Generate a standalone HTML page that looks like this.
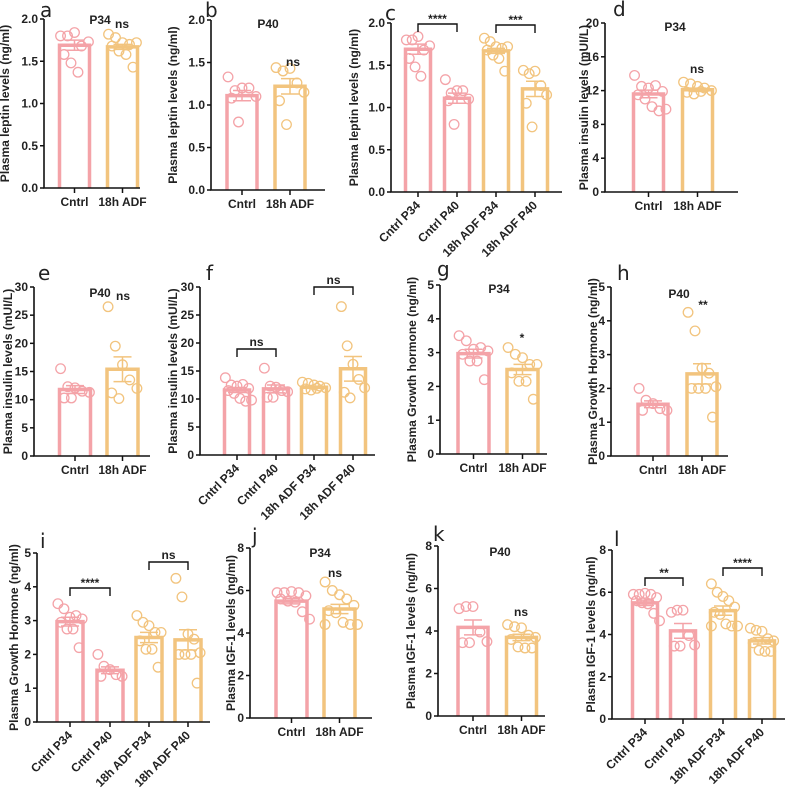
<!DOCTYPE html>
<html><head><meta charset="utf-8">
<style>
html,body{margin:0;padding:0;background:#fff;}
svg{display:block;font-family:"Liberation Sans",Arial,sans-serif;}
.tk{font-size:12px;font-weight:bold;fill:#222;}
.yl{font-size:12px;font-weight:bold;fill:#222;}
.tt{font-size:12px;font-weight:bold;fill:#222;}
.lt{font-size:20px;fill:#222;font-family:"DejaVu Sans",sans-serif;}
</style></head>
<body>
<svg id="fig" width="790" height="790" viewBox="0 0 790 790"></svg>
<script>
// ---- data ----
const catsTwo = ["Cntrl","18h ADF"];
const catsFour = ["Cntrl P34","Cntrl P40","18h ADF P34","18h ADF P40"];
const leptinCntrlP34 = [1.80,1.80,1.84,1.68,1.73,1.58,1.48,1.37];
const leptinAdfP34 = [1.82,1.78,1.72,1.70,1.72,1.68,1.62,1.58,1.43];
const leptinCntrlP40 = [1.33,1.17,1.20,1.20,1.10,1.08,0.80];
const leptinAdfP40 = [1.44,1.40,1.43,1.26,1.15,1.05,0.77];
const leptinMeans = [1.69,1.11,1.67,1.22];
const leptinSems = [0.06,0.06,0.03,0.09];
const insCntrlP34 = [13.8,12.5,12.3,12.6,11.9,11.5,11.0,10.1,9.6,9.8];
const insAdfP34 = [13.0,12.8,12.5,12.3,12.0,11.8,11.6,11.9];
const insCntrlP40 = [15.5,12.3,12.1,11.5,11.3,10.3,10.3];
const insAdfP40 = [26.5,19.5,16.2,13.5,12.0,11.2,10.2];
const insMeans = [11.6,11.8,12.1,15.4];
const insSems = [0.45,0.7,0.2,2.2];
const ghCntrlP34 = [3.5,3.35,3.1,3.15,3.05,2.95,2.75,2.75,2.2];
const ghAdfP34 = [3.15,2.95,2.85,2.65,2.65,2.4,2.15,2.15,1.62];
const ghCntrlP40 = [2.0,1.65,1.55,1.4,1.35,1.35];
const ghAdfP40 = [4.25,3.7,2.6,2.45,2.05,2.0,2.0,2.0,1.15];
const ghMeans = [2.97,1.53,2.50,2.43];
const ghSems = [0.13,0.1,0.15,0.3];
const igfCntrlP34 = [5.9,5.9,5.95,5.9,5.75,5.6,5.5,5.45,5.0,4.65];
const igfAdfP34 = [6.4,6.0,5.8,5.6,5.3,5.05,4.95,4.5,4.4,4.4,4.4];
const igfCntrlP40 = [5.05,5.15,5.15,3.95,3.5,3.45,3.45];
const igfAdfP40 = [4.3,4.2,4.15,3.8,3.7,3.6,3.25,3.2,3.2];
const igfMeans = [5.5,4.17,5.13,3.7];
const igfSems = [0.13,0.35,0.22,0.15];
const ticksLeptin = ["0.0","0.5","1.0","1.5","2.0"];
const ticksInsD = ["0","4","8","12","16","20"];
const ticksIns = ["0","5","10","15","20","25","30"];
const ticksGh = ["0","1","2","3","4","5"];
const ticksIgf = ["0","2","4","6","8"];

const PINK="#f4a3a8", ORANGE="#f2c47e";
const svg=document.getElementById('fig');
const NS="http://www.w3.org/2000/svg";
function mk(tag,attrs,parent){const e=document.createElementNS(NS,tag);for(const k in attrs)e.setAttribute(k,attrs[k]);(parent||svg).appendChild(e);return e;}

function panel(p){
  const g=mk('g',{});
  
  
  const vmax=parseFloat(p.ticks[p.ticks.length-1]);
  const y=v=>p.bot-(v/vmax)*(p.bot-p.top);
  const lt=mk('text',{x:p.lx,y:p.ly,class:'lt'},g);lt.textContent=p.letter;
  
  
  p.means.forEach((m,i)=>{
    const cx=p.cx[i],col=p.colors[i],hw=p.bw/2;
    const bar=mk('path',{d:`M${cx-hw},${p.bot} V${y(m)} H${cx+hw} V${p.bot}`,fill:'none',stroke:col,'stroke-width':3.5},g);
    
    
    const pts=p.pts[i];
    pts.forEach((v,j)=>{
      const off=((j%5)-2)*(p.bw/4.3)+((j%10)>=5?p.bw/8.6:0);
      const c=mk('circle',{cx:cx+off,cy:y(v),r:4.8,fill:'none',stroke:col,'stroke-width':1.3},g);
      
      
    });
    const s=p.sems[i];
    const eb=mk('path',{d:`M${cx},${y(m-s)} V${y(m+s)} M${cx-9},${y(m+s)} H${cx+9} M${cx-9},${y(m-s)} H${cx+9}`,stroke:col,'stroke-width':1.5,fill:'none'},g);
    
    
  });
  mk('path',{d:`M${p.ax},${p.top} V${p.bot} H${p.aend}`,stroke:'#111','stroke-width':1.6,fill:'none'},g);
  p.ticks.forEach(t=>{
    const yy=y(parseFloat(t));
    mk('line',{x1:p.ax-4,x2:p.ax,y1:yy,y2:yy,stroke:'#111','stroke-width':1.5},g);
    const tx=mk('text',{x:p.ax-6,y:yy+4,class:'tk','text-anchor':'end'},g);tx.textContent=t;
  });
  p.cats.forEach((c,i)=>{
    mk('line',{x1:p.cx[i],x2:p.cx[i],y1:p.bot,y2:p.bot+5,stroke:'#111','stroke-width':1.5},g);
    let tx;
    if(p.cats.length===2){tx=mk('text',{x:p.cx[i],y:p.bot+18,class:'tk','text-anchor':'middle'},g);}
    else{tx=mk('text',{x:p.cx[i]+3,y:p.bot+14,class:'tk','text-anchor':'end',transform:`rotate(-45 ${p.cx[i]+3} ${p.bot+14})`},g);}
    tx.textContent=c;
    
    
  });
  const ymid=(p.top+p.bot)/2;
  const yl=mk('text',{x:p.ylx,y:ymid,class:'yl','text-anchor':'middle',transform:`rotate(-90 ${p.ylx} ${ymid})`},g);
  yl.textContent=p.ylabel;
  
  
  if(p.title){const t=mk('text',{x:p.title[1],y:p.title[2],class:'tt','text-anchor':'middle'},g);t.textContent=p.title[0];
    
    }
  (p.sig||[]).forEach(s=>{
    const t=mk('text',{x:s[1],y:s[2],class:'tt','text-anchor':'middle','font-size':s[0]==='ns'?'12px':'9px'},g);t.textContent=s[0];
    
    
  });
  (p.br||[]).forEach(b=>{
    const x1=p.cx[b[0]],x2=p.cx[b[1]],yy=b[2];
    mk('path',{d:`M${x1},${yy+8} V${yy} H${x2} V${yy+8}`,stroke:'#111','stroke-width':1.4,fill:'none'},g);
    const t=mk('text',{x:(x1+x2)/2,y:b[3]==='ns'?yy-3:yy-1,class:'tt','text-anchor':'middle','font-size':b[3]==='ns'?'12px':'9px'},g);t.textContent=b[3];
    
    
  });
}
const two=[PINK,ORANGE], four=[PINK,PINK,ORANGE,ORANGE];
const LEP="Plasma leptin levels (ng/ml)", INS="Plasma insulin  levels (mUI/L)", IGF="Plasma IGF-1 levels (ng/ml)";
panel({letter:'a',lx:40,ly:17,ax:44,top:19,bot:188,aend:140,cx:[74.5,122.5],bw:30,cats:catsTwo,colors:two,
  means:[leptinMeans[0],leptinMeans[2]],sems:[leptinSems[0],leptinSems[2]],pts:[leptinCntrlP34,leptinAdfP34],
  ticks:ticksLeptin,ylabel:LEP,ylx:9,title:['P34',100,24],sig:[['ns',122,28]]});
panel({letter:'b',lx:205,ly:17,ax:211,top:20,bot:190,aend:325,cx:[242,290],bw:30,cats:catsTwo,colors:two,
  means:[leptinMeans[1],leptinMeans[3]],sems:[leptinSems[1],leptinSems[3]],pts:[leptinCntrlP40,leptinAdfP40],
  ticks:ticksLeptin,ylabel:LEP,ylx:177,title:['P40',268,28],sig:[['ns',293,66]]});
panel({letter:'c',lx:385,ly:20,ax:391,top:23,bot:192,aend:562,cx:[418,457,496,535],bw:25,cats:catsFour,colors:four,
  means:leptinMeans,sems:leptinSems,pts:[leptinCntrlP34,leptinCntrlP40,leptinAdfP34,leptinAdfP40],
  ticks:ticksLeptin,ylabel:LEP,ylx:358,br:[[0,1,24,'****'],[2,3,25,'***']]});
panel({letter:'d',lx:613,ly:16,ax:605,top:23,bot:192,aend:738,cx:[648.5,697.5],bw:30,cats:catsTwo,colors:two,
  means:[insMeans[0],insMeans[2]],sems:[insSems[0],insSems[2]],pts:[insCntrlP34,insAdfP34],
  ticks:ticksInsD,ylabel:INS,ylx:588,title:['P34',675,31],sig:[['ns',697,73]]});
panel({letter:'e',lx:38,ly:280,ax:34,top:287,bot:456,aend:150,cx:[75,122.5],bw:31,cats:catsTwo,colors:two,
  means:[insMeans[1],insMeans[3]],sems:[insSems[1],insSems[3]],pts:[insCntrlP40,insAdfP40],
  ticks:ticksIns,ylabel:INS,ylx:12,title:['P40',100,297],sig:[['ns',123,300]]});
panel({letter:'f',lx:206,ly:280,ax:200,top:287,bot:455,aend:375,cx:[237,276,314,353],bw:25,cats:catsFour,colors:four,
  means:insMeans,sems:insSems,pts:[insCntrlP34,insCntrlP40,insAdfP34,insAdfP40],
  ticks:ticksIns,ylabel:INS,ylx:177,br:[[0,1,349,'ns'],[2,3,287,'ns']]});
panel({letter:'g',lx:437,ly:276,ax:440,top:285,bot:454,aend:547,cx:[473.5,522.5],bw:31,cats:catsTwo,colors:two,
  means:[ghMeans[0],ghMeans[2]],sems:[ghSems[0],ghSems[2]],pts:[ghCntrlP34,ghAdfP34],
  ticks:ticksGh,ylabel:'Plasma Growth hormone (ng/ml)',ylx:416,title:['P34',499,293],sig:[['*',522,342]]});
panel({letter:'h',lx:617,ly:280,ax:611,top:287,bot:456,aend:728,cx:[653,702],bw:30,cats:catsTwo,colors:two,
  means:[ghMeans[1],ghMeans[3]],sems:[ghSems[1],ghSems[3]],pts:[ghCntrlP40,ghAdfP40],
  ticks:ticksGh,ylabel:'Plasma Growth Hormone (ng/ml)',ylx:597,title:['P40',679,298],sig:[['**',703,309]]});
panel({letter:'i',lx:40,ly:548,ax:37,top:553,bot:722,aend:210,cx:[70,110,149,188],bw:26,cats:catsFour,colors:four,
  means:ghMeans,sems:ghSems,pts:[ghCntrlP34,ghCntrlP40,ghAdfP34,ghAdfP40],
  ticks:ticksGh,ylabel:'Plasma Growth Hormone (ng/ml)',ylx:18,br:[[0,1,588,'****'],[2,3,562,'ns']]});
panel({letter:'j',lx:252,ly:543,ax:250,top:548,bot:718,aend:372,cx:[291.5,339.5],bw:31,cats:catsTwo,colors:two,
  means:[igfMeans[0],igfMeans[2]],sems:[igfSems[0],igfSems[2]],pts:[igfCntrlP34,igfAdfP34],
  ticks:ticksIgf,ylabel:IGF,ylx:235,title:['P34',320,557],sig:[['ns',335,577]]});
panel({letter:'k',lx:433,ly:541,ax:438,top:546,bot:716,aend:545,cx:[473,521.5],bw:30,cats:catsTwo,colors:two,
  means:[igfMeans[1],igfMeans[3]],sems:[igfSems[1],igfSems[3]],pts:[igfCntrlP40,igfAdfP40],
  ticks:ticksIgf,ylabel:IGF,ylx:415,title:['P40',500,556],sig:[['ns',521,616]]});
panel({letter:'l',lx:614,ly:546,ax:612,top:550,bot:719,aend:785,cx:[645,683,723,762],bw:25,cats:catsFour,colors:four,
  means:igfMeans,sems:igfSems,pts:[igfCntrlP34,igfCntrlP40,igfAdfP34,igfAdfP40],
  ticks:ticksIgf,ylabel:IGF,ylx:595,br:[[0,1,578,'**'],[2,3,568,'****']]});
</script>
</body></html>
